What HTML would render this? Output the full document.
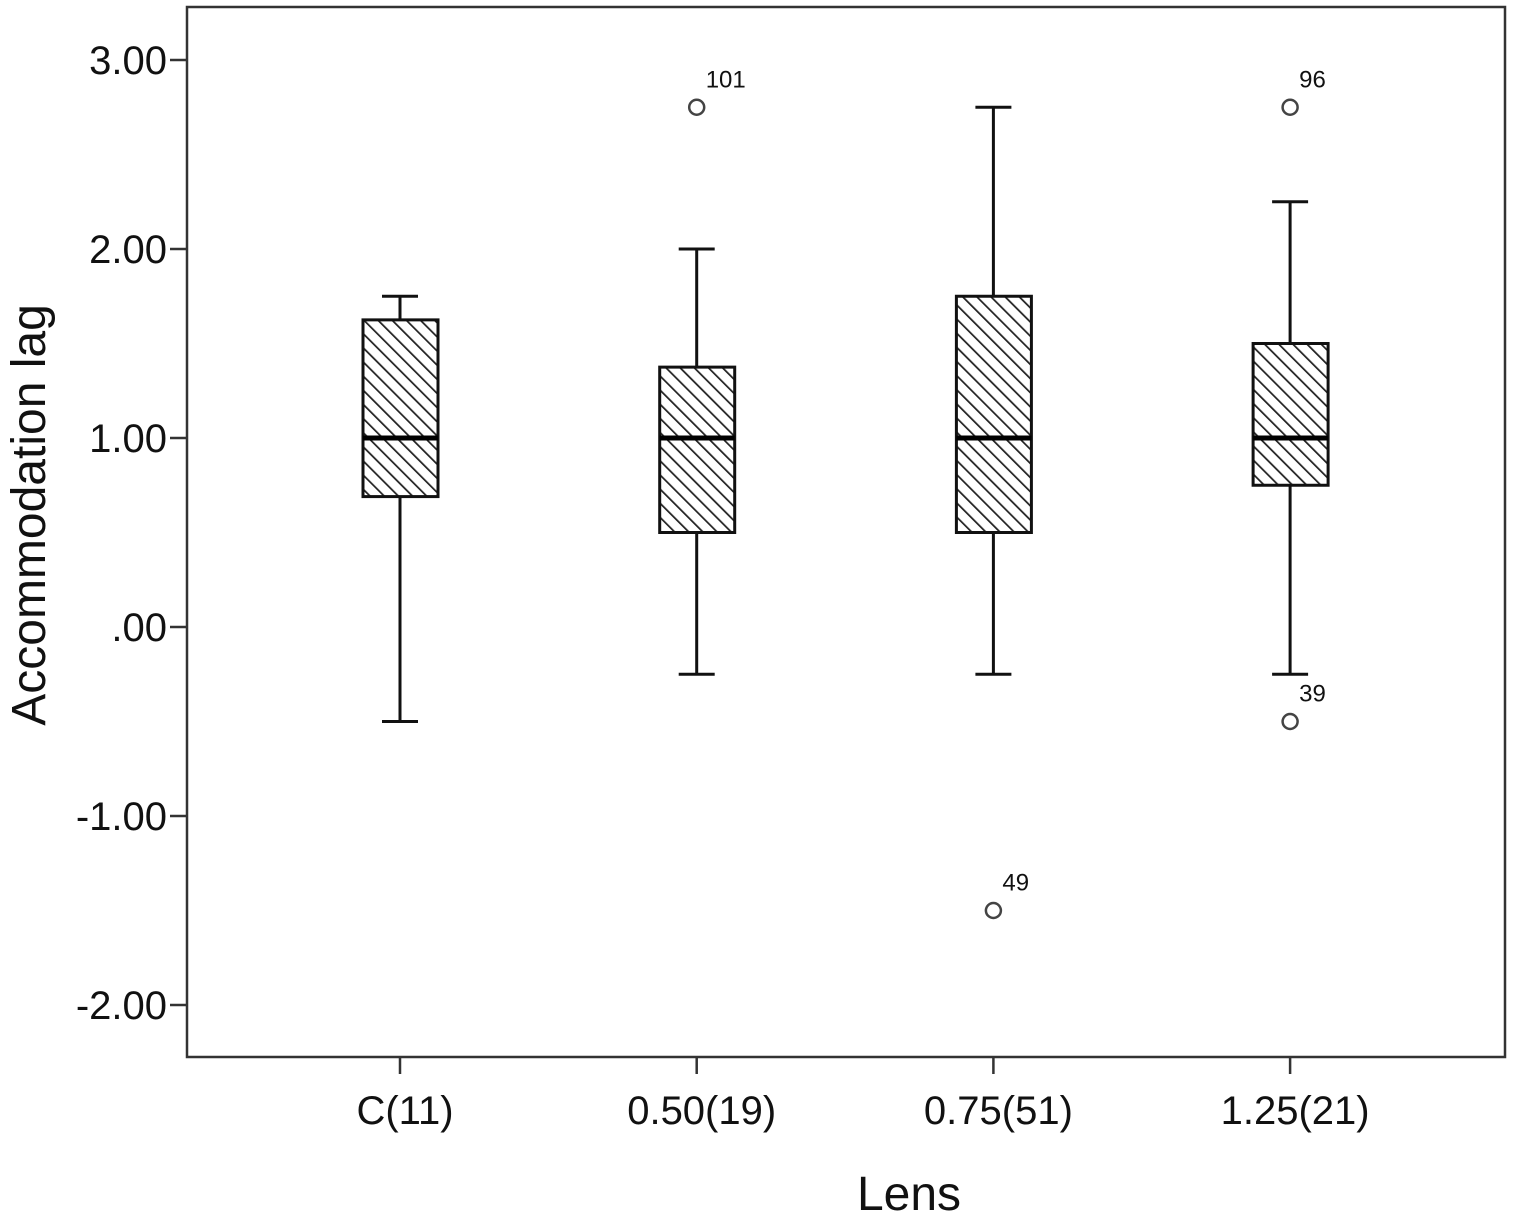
<!DOCTYPE html>
<html><head><meta charset="utf-8"><style>
html,body{margin:0;padding:0;background:#fff;}
svg{display:block;font-family:"Liberation Sans",Arial,sans-serif;}
</style></head><body>
<svg id="chart" width="1513" height="1220" viewBox="0 0 1513 1220">
<defs>
<pattern id="hatch" patternUnits="userSpaceOnUse" width="10" height="10" patternTransform="rotate(-45)">
<rect width="10" height="10" fill="#fff"/>
<line x1="0" y1="0" x2="0" y2="10" stroke="#222" stroke-width="3.5"/>
</pattern>
</defs>
<rect x="187" y="7" width="1318" height="1050" fill="none" stroke="#333" stroke-width="2.5"/>
<g id="marks"></g>
<text x="45" y="515" font-size="48" text-anchor="middle" transform="rotate(-90 45 515)" fill="#111">Accommodation lag</text>
<text x="909" y="1210" font-size="48" text-anchor="middle" fill="#111">Lens</text>
</svg>
<script>
const categories = ["C(11)","0.50(19)","0.75(51)","1.25(21)"];
const whiskerLow = [-0.5,-0.25,-0.25,-0.25];
const q1 = [0.69,0.5,0.5,0.75];
const medians = [1.0,1.0,1.0,1.0];
const q3 = [1.625,1.375,1.75,1.5];
const whiskerHigh = [1.75,2.0,2.75,2.25];
const outlierCat = [1,2,3,3];
const outlierVal = [2.75,-1.5,2.75,-0.5];
const outlierLabel = ["101","49","96","39"];
const yTicks = [3,2,1,0,-1,-2];
const yTickLabels = ["3.00","2.00","1.00",".00","-1.00","-2.00"];

const NS="http://www.w3.org/2000/svg";
const g=document.getElementById('marks');
const y=v=>627-v*189;
const x=i=>400+i*296.7;
function mk(tag,attrs){const e=document.createElementNS(NS,tag);for(const k in attrs)e.setAttribute(k,attrs[k]);g.appendChild(e);return e;}

yTicks.forEach((t,i)=>{
  const tk=mk('line',{x1:170,x2:187,y1:y(t),y2:y(t),stroke:'#333','stroke-width':2.5});
  
  
  const lb=mk('text',{x:167,y:y(t)+14,'font-size':40,'text-anchor':'end',fill:'#111'});
  lb.textContent=yTickLabels[i];
  
  
});
categories.forEach((c,i)=>{
  const cx=x(i);
  const tk=mk('line',{x1:cx,x2:cx,y1:1057,y2:1074,stroke:'#333','stroke-width':2.5});
  
  
  const lb=mk('text',{x:cx+5,y:1124,'font-size':40,'text-anchor':'middle',fill:'#111'});
  lb.textContent=c;
  
  
  const w=mk('line',{x1:cx,x2:cx,y1:y(whiskerHigh[i]),y2:y(whiskerLow[i]),stroke:'#111','stroke-width':3});
  
  
  [whiskerHigh[i],whiskerLow[i]].forEach(v=>{
    const cp=mk('line',{x1:cx-18,x2:cx+18,y1:y(v),y2:y(v),stroke:'#111','stroke-width':3});
    
    
  });
  const b=mk('rect',{x:cx-37,y:y(q3[i]),width:75,height:y(q1[i])-y(q3[i]),fill:'url(#hatch)',stroke:'#111','stroke-width':3});
  
  
  const m=mk('line',{x1:cx-37,x2:cx+38,y1:y(medians[i]),y2:y(medians[i]),stroke:'#000','stroke-width':5});
  
  
});
outlierVal.forEach((v,k)=>{
  const cx=x(outlierCat[k]);
  const o=mk('circle',{cx:cx,cy:y(v),r:7.5,fill:'#fff',stroke:'#444','stroke-width':2.5});
  
  
  const t=mk('text',{x:cx+9,y:y(v)-20,'font-size':24,fill:'#111'});
  t.textContent=outlierLabel[k];
  
  
});
</script>
</body></html>
